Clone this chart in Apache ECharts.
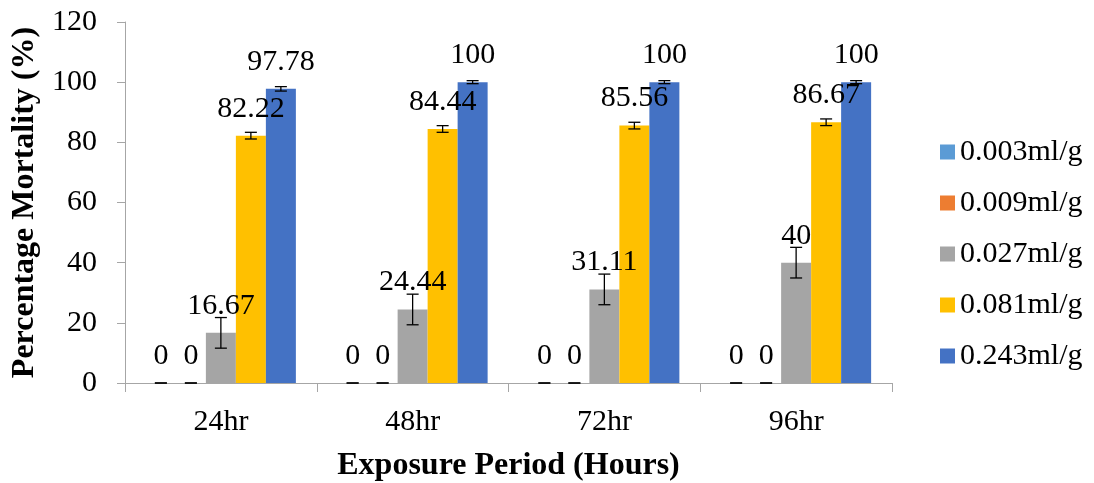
<!DOCTYPE html>
<html>
<head>
<meta charset="utf-8">
<script src="https://cdn.jsdelivr.net/npm/echarts@6/dist/echarts.min.js"></script>
<style>
html,body{margin:0;padding:0;background:#fff;}
#chart{width:1094px;height:483px;}
</style>
</head>
<body>
<div id="chart"></div>
<script>
const categories = ['24hr', '48hr', '72hr', '96hr'];
const seriesNames = ['0.003ml/g', '0.009ml/g', '0.027ml/g', '0.081ml/g', '0.243ml/g'];
const s003 = [0, 0, 0, 0];
const s009 = [0, 0, 0, 0];
const s027 = [16.67, 24.44, 31.11, 40];
const s081 = [82.22, 84.44, 85.56, 86.67];
const s243 = [97.78, 100, 100, 100];
const e003 = [0, 0, 0, 0];
const e009 = [0, 0, 0, 0];
const e027 = [5.09, 5.09, 5.09, 5.09];
const e081 = [1.11, 1.11, 1.11, 1.11];
const e243 = [0.74, 0.5, 0.5, 0.5];
const yTicks = [0, 20, 40, 60, 80, 100, 120];

const colors = ['#5B9BD5', '#ED7D31', '#A5A5A5', '#FFC000', '#4472C4'];
const values = [s003, s009, s027, s081, s243];
const errors = [e003, e009, e027, e081, e243];
const FONT = 'Liberation Serif';
const BAR_W = 30;

const chart = echarts.init(document.getElementById('chart'));

const barSeries = values.map((vals, i) => ({
  name: seriesNames[i],
  type: 'bar',
  data: vals,
  barWidth: BAR_W,
  barGap: '0%',
  itemStyle: { color: colors[i] },
  label: {
    show: true,
    position: 'top',
    distance: 12,
    color: '#000',
    fontFamily: FONT,
    fontSize: 30
  },
  z: 2
}));

const errData = [];
values.forEach((vals, i) => {
  vals.forEach((v, c) => errData.push([c, v, errors[i][c], i]));
});

const errSeries = {
  type: 'custom',
  name: 'err',
  data: errData,
  z: 5,
  silent: true,
  renderItem: function (params, api) {
    const c = api.value(0), v = api.value(1), e = api.value(2), idx = api.value(3);
    const off = (idx - 2) * BAR_W;
    const hi = api.coord([c, v + e]);
    const lo = api.coord([c, v - e]);
    const x = hi[0] + off;
    const cap = 6;
    const st = { stroke: '#000', lineWidth: 1.3 };
    return {
      type: 'group',
      children: [
        { type: 'line', shape: { x1: x, y1: hi[1], x2: x, y2: lo[1] }, style: st },
        { type: 'line', shape: { x1: x - cap, y1: hi[1], x2: x + cap, y2: hi[1] }, style: st },
        { type: 'line', shape: { x1: x - cap, y1: lo[1], x2: x + cap, y2: lo[1] }, style: st }
      ]
    };
  }
};

chart.setOption({
  animation: false,
  backgroundColor: '#fff',
  textStyle: { fontFamily: FONT },
  grid: { left: 125, right: 202, top: 22, bottom: 100, outerBoundsMode: 'none', containLabel: false },
  legend: {
    orient: 'vertical',
    left: 935,
    top: 132,
    itemWidth: 15,
    itemHeight: 15,
    itemGap: 21,
    icon: 'rect',
    data: seriesNames,
    textStyle: { fontFamily: FONT, fontSize: 30, color: '#000' }
  },
  xAxis: {
    type: 'category',
    data: categories,
    name: 'Exposure Period (Hours)',
    nameLocation: 'middle',
    nameGap: 67,
    nameTextStyle: { fontFamily: FONT, fontSize: 32, fontWeight: 'bold', color: '#000' },
    axisLine: { lineStyle: { color: '#A6A6A6', width: 1 } },
    axisTick: { show: true, length: 9, lineStyle: { color: '#A6A6A6' } },
    axisLabel: { fontFamily: FONT, fontSize: 30, color: '#000', margin: 24 }
  },
  yAxis: {
    type: 'value',
    min: yTicks[0],
    max: yTicks[yTicks.length - 1],
    interval: 20,
    name: 'Percentage Mortality (%)',
    nameLocation: 'middle',
    nameGap: 82,
    nameTextStyle: { fontFamily: FONT, fontSize: 32, fontWeight: 'bold', color: '#000' },
    axisLine: { show: true, lineStyle: { color: '#A6A6A6', width: 1 } },
    axisTick: { show: true, length: 8, lineStyle: { color: '#A6A6A6' } },
    splitLine: { show: false },
    axisLabel: { fontFamily: FONT, fontSize: 30, color: '#000', margin: 28 }
  },
  series: barSeries.concat([errSeries])
});
</script>
</body>
</html>
